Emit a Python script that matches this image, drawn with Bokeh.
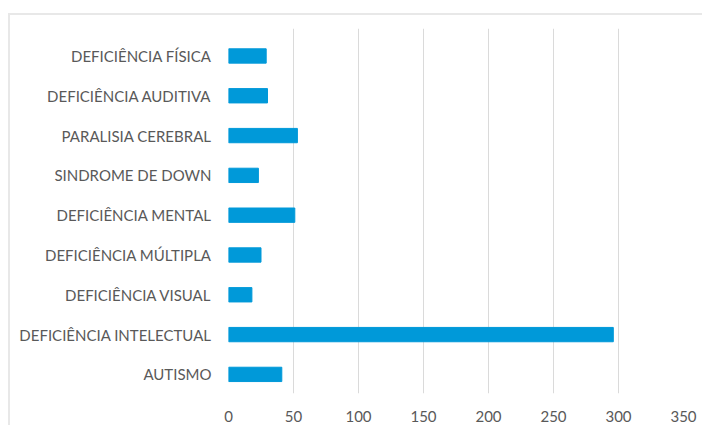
from bokeh.plotting import figure
from bokeh.models import Range1d, FixedTicker, ColumnDataSource
from bokeh.embed import file_html
from bokeh.resources import INLINE

categories = [
    "AUTISMO",
    "DEFICIÊNCIA INTELECTUAL",
    "DEFICIÊNCIA VISUAL",
    "DEFICIÊNCIA MÚLTIPLA",
    "DEFICIÊNCIA MENTAL",
    "SINDROME DE DOWN",
    "PARALISIA CEREBRAL",
    "DEFICIÊNCIA AUDITIVA",
    "DEFICIÊNCIA FÍSICA",
]
values = [41, 296, 18, 25, 51, 23, 53, 30, 29]
x_ticks = [0, 50, 100, 150, 200, 250, 300, 350]

positions = list(range(len(categories)))
source = ColumnDataSource(dict(y=positions, v=values, cat=categories))

FONT = "Lato"
TEXT = "#595959"

p = figure(
    output_backend="svg", toolbar_location=None,
    frame_width=455, frame_height=365,
    min_border_left=218, min_border_right=19,
    min_border_top=13, min_border_bottom=32,
    x_range=Range1d(0, 350),
    y_range=Range1d(-0.48, len(categories) - 1 + 0.69),
)
p.styles = {"margin-top": "13px", "margin-left": "8px",
            "border-top": "2px solid #e8e8e8",
            "border-left": "2px solid #e8e8e8"}
p.outline_line_color = None
p.background_fill_color = "white"
p.border_fill_color = "white"

p.hbar(y="y", right="v", left=0, height=0.36, source=source,
       fill_color="#0099D9", line_color="#0099D9")

p.xaxis.ticker = FixedTicker(ticks=x_ticks)
p.xaxis.axis_line_color = None
p.xaxis.major_tick_line_color = None
p.xaxis.minor_tick_line_color = None
p.xaxis.major_label_standoff = 11
p.xaxis.major_label_text_font = FONT
p.xaxis.major_label_text_font_size = "15px"
p.xaxis.major_label_text_color = TEXT

p.yaxis.ticker = FixedTicker(ticks=positions)
p.yaxis.major_label_overrides = {i: c for i, c in zip(positions, categories)}
p.yaxis.axis_line_color = None
p.yaxis.major_tick_line_color = None
p.yaxis.minor_tick_line_color = None
p.yaxis.major_label_standoff = 11
p.yaxis.major_label_text_font = FONT
p.yaxis.major_label_text_font_size = "15px"
p.yaxis.major_label_text_color = TEXT

p.xgrid.ticker = FixedTicker(ticks=x_ticks)
p.xgrid.grid_line_color = "#dadada"
p.xgrid.grid_line_width = 1
p.ygrid.grid_line_color = None

open("out.html", "w").write(file_html(p, INLINE))
